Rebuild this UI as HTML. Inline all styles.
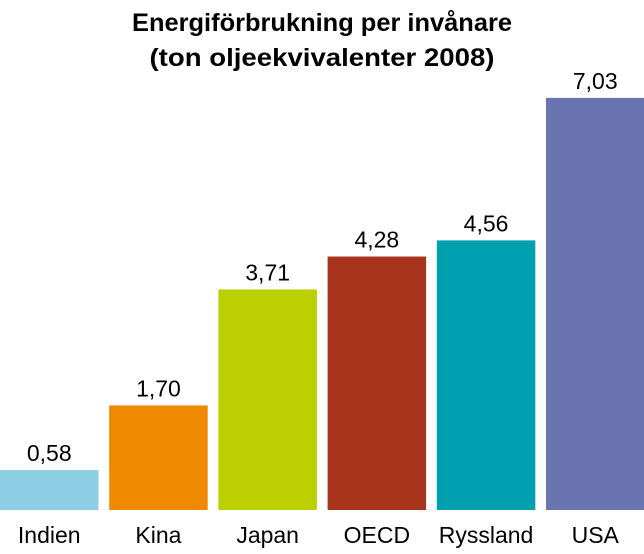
<!DOCTYPE html>
<html><head><meta charset="utf-8"><style>
html,body{margin:0;padding:0;background:#fff;}
svg{display:block;font-family:"Liberation Sans",sans-serif;}
</style></head><body>
<svg id="chart" width="644" height="554" viewBox="0 0 644 554">
<text x="322" y="31" text-anchor="middle" font-size="25" font-weight="bold" fill="#000" textLength="380" lengthAdjust="spacingAndGlyphs">Energiförbrukning per invånare</text>
<text x="322" y="66" text-anchor="middle" font-size="25" font-weight="bold" fill="#000" textLength="345" lengthAdjust="spacingAndGlyphs">(ton oljeekvivalenter 2008)</text>
<g id="bars"></g>
</svg>
<script>
const categories = ["Indien","Kina","Japan","OECD","Ryssland","USA"];
const values = [0.58,1.70,3.71,4.28,4.56,7.03];
const valueLabels = ["0,58","1,70","3,71","4,28","4,56","7,03"];
const colors = ["#8ecfe6","#ef8a00","#bccf00","#a8351b","#00a0b0","#6a74b0"];
const baseY = 503.5, pxPerUnit = 57.7, barBottom = 510, slot = 109.2, barW = 98.5;
function y(v){return baseY - v*pxPerUnit;}
function x(i){return i*slot;}
const g = document.getElementById('bars');
const NS = "http://www.w3.org/2000/svg";
categories.forEach((c,i)=>{
  const r = document.createElementNS(NS,'rect');
  
  
  r.setAttribute('x', x(i)); r.setAttribute('y', y(values[i]));
  r.setAttribute('width', barW); r.setAttribute('height', barBottom - y(values[i]));
  r.setAttribute('fill', colors[i]);
  g.appendChild(r);
  const t = document.createElementNS(NS,'text');
  
  
  t.setAttribute('x', x(i)+barW/2); t.setAttribute('y', y(values[i]) - 9);
  t.setAttribute('text-anchor','middle'); t.setAttribute('font-size','23');
  t.textContent = valueLabels[i];
  g.appendChild(t);
  const l = document.createElementNS(NS,'text');
  
  
  l.setAttribute('x', x(i)+barW/2); l.setAttribute('y', 543);
  l.setAttribute('text-anchor','middle'); l.setAttribute('font-size','23');
  l.textContent = c;
  g.appendChild(l);
});
</script>
</body></html>
